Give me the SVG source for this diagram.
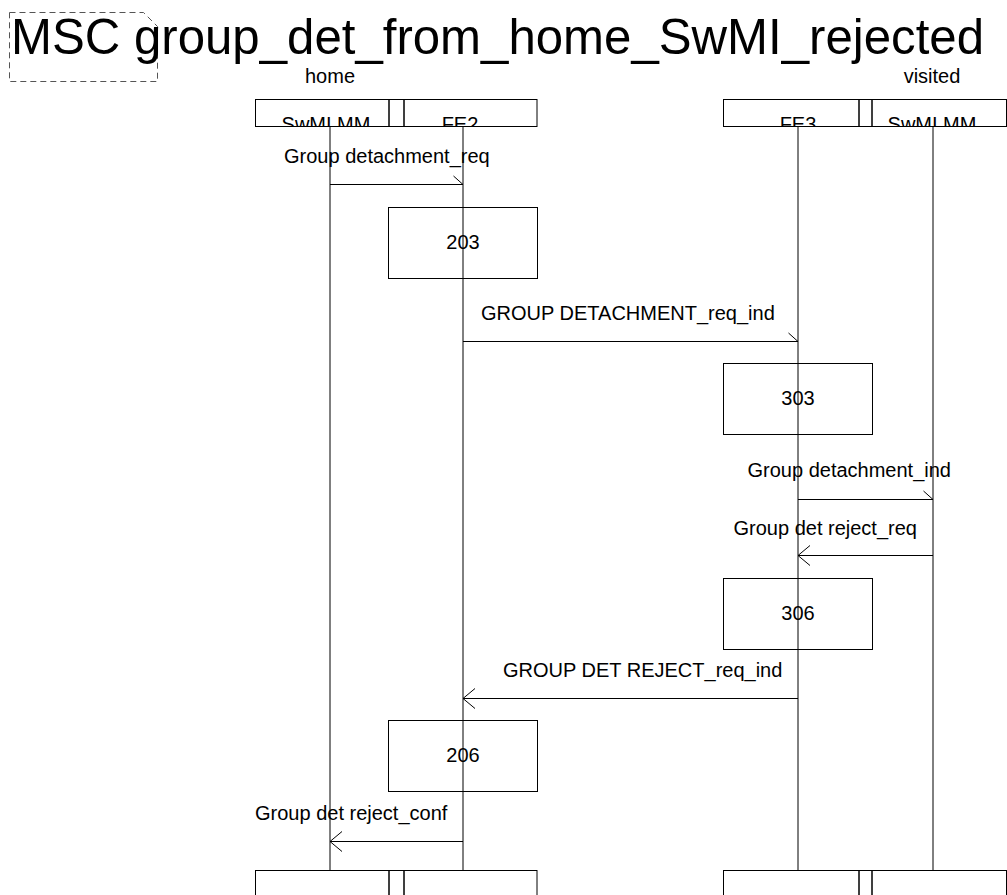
<svg xmlns="http://www.w3.org/2000/svg" width="1007" height="895" viewBox="0 0 1007 895">
<style>
text{font-family:"Liberation Sans",Arial,sans-serif;fill:#000}
.t{font-size:20px}
.c{text-anchor:middle}
.box{fill:none;stroke:#000;stroke-width:1}
.hdr{fill:none;stroke:#000;stroke-width:1}
.life{stroke:#000;stroke-width:1;fill:none}
.msg{stroke:#000;stroke-width:1;fill:none}
.frame{fill:none;stroke:#555;stroke-width:1;stroke-dasharray:6,4}
</style>
<defs>
<clipPath id="clipL"><rect x="255" y="99.5" width="282" height="26.5"/></clipPath>
<clipPath id="clipR"><rect x="723" y="99.5" width="284" height="26.5"/></clipPath>
</defs>
<rect width="1007" height="895" fill="#fff"/>

<g id="frame">
<path class="frame" d="M9.5,12.5 H143.5 L157.5,26.5 V81.5 H9.5 Z"/>
<text x="11" y="54" style="font-size:49.5px" textLength="973" lengthAdjust="spacingAndGlyphs">MSC group_det_from_home_SwMI_rejected</text>
</g>

<g id="home">
<text class="t c" x="330" y="83">home</text>
<g id="home_SwMI_MM">
<rect class="hdr" x="255.5" y="99.5" width="133.5" height="27"/>
<text class="t c" x="326" y="131" clip-path="url(#clipL)">SwMI MM</text>
<line class="life" x1="330" y1="126" x2="330" y2="870"/>
</g>
<rect class="hdr" x="389" y="99.5" width="15" height="27"/>
<g id="home_FE2">
<rect class="hdr" x="404" y="99.5" width="133" height="27"/>
<text class="t c" x="460" y="131" clip-path="url(#clipL)">FE2</text>
<line class="life" x1="463" y1="126" x2="463" y2="870"/>
</g>
<rect class="hdr" x="255.5" y="870.5" width="133.5" height="30"/>
<rect class="hdr" x="389" y="870.5" width="15" height="30"/>
<rect class="hdr" x="404" y="870.5" width="133" height="30"/>
</g>

<g id="visited">
<text class="t c" x="932" y="83">visited</text>
<g id="visited_FE3">
<rect class="hdr" x="723.5" y="99.5" width="135.5" height="27"/>
<text class="t c" x="798" y="131" clip-path="url(#clipR)">FE3</text>
<line class="life" x1="798" y1="126" x2="798" y2="870"/>
</g>
<rect class="hdr" x="859" y="99.5" width="13" height="27"/>
<g id="visited_SwMI_MM">
<rect class="hdr" x="872" y="99.5" width="134.5" height="27"/>
<text class="t c" x="932" y="131" clip-path="url(#clipR)">SwMI MM</text>
<line class="life" x1="933" y1="126" x2="933" y2="870"/>
</g>
<rect class="hdr" x="723.5" y="870.5" width="135.5" height="30"/>
<rect class="hdr" x="859" y="870.5" width="13" height="30"/>
<rect class="hdr" x="872" y="870.5" width="134.5" height="30"/>
</g>

<g id="action_203">
<rect class="box" x="388.5" y="207.5" width="149" height="71"/>
<text class="t c" x="463" y="249">203</text>
</g>
<g id="action_303">
<rect class="box" x="723.5" y="363.5" width="149" height="71"/>
<text class="t c" x="798" y="405">303</text>
</g>
<g id="action_306">
<rect class="box" x="723.5" y="578.5" width="149" height="71"/>
<text class="t c" x="798" y="620">306</text>
</g>
<g id="action_206">
<rect class="box" x="388.5" y="720.5" width="149" height="71"/>
<text class="t c" x="463" y="762">206</text>
</g>

<g id="connectors">
<g id="m1">
<text class="t" x="284" y="163">Group detachment_req</text>
<line class="msg" x1="330" y1="184.5" x2="463" y2="184.5"/>
<polyline class="msg" points="453.5,176 463,184.5"/>
</g>
<g id="m2">
<text class="t" x="481" y="320">GROUP DETACHMENT_req_ind</text>
<line class="msg" x1="463" y1="341.5" x2="798" y2="341.5"/>
<polyline class="msg" points="788.5,333 798,341.5"/>
</g>
<g id="m3">
<text class="t" x="747.5" y="477">Group detachment_ind</text>
<line class="msg" x1="798" y1="499.5" x2="933" y2="499.5"/>
<polyline class="msg" points="923.5,491 933,499.5"/>
</g>
<g id="m4">
<text class="t" x="733.5" y="535">Group det reject_req</text>
<line class="msg" x1="933" y1="555.5" x2="798" y2="555.5"/>
<polyline class="msg" points="810,545.5 798,555.5 810,565.5"/>
</g>
<g id="m5">
<text class="t" x="503" y="677">GROUP DET REJECT_req_ind</text>
<line class="msg" x1="798" y1="698.5" x2="463" y2="698.5"/>
<polyline class="msg" points="475,688.5 463,698.5 475,708.5"/>
</g>
<g id="m6">
<text class="t" x="255" y="820">Group det reject_conf</text>
<line class="msg" x1="463" y1="841.5" x2="330" y2="841.5"/>
<polyline class="msg" points="342,831.5 330,841.5 342,851.5"/>
</g>
</g>
</svg>
